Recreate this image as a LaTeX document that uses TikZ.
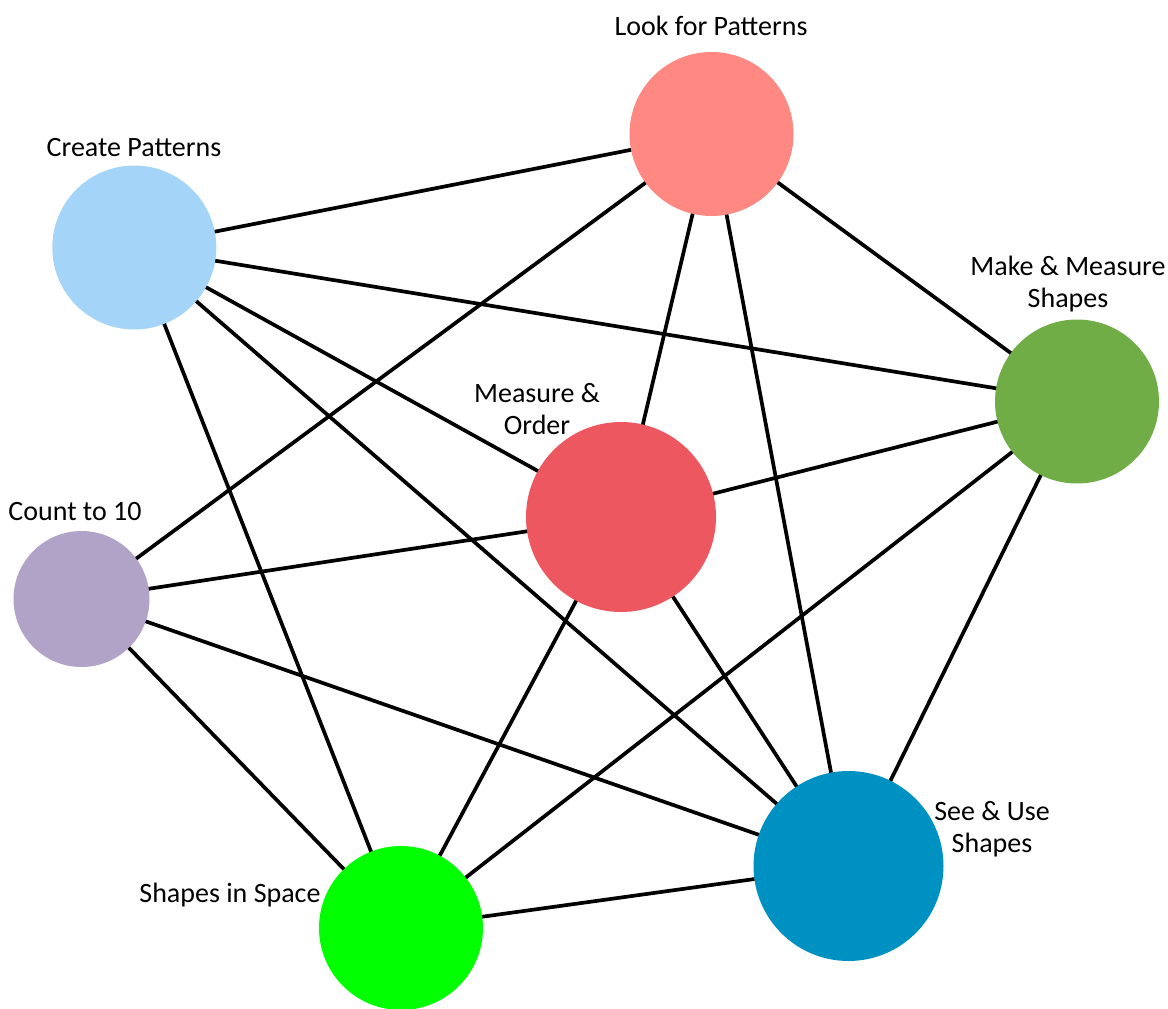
\documentclass[tikz,border=0pt]{standalone}
\usepackage{fontspec}
\setmainfont{Carlito}
\definecolor{cLook}{HTML}{FF8882}
\definecolor{cCreate}{HTML}{A4D4F7}
\definecolor{cMake}{HTML}{70AD47}
\definecolor{cOrder}{HTML}{EC5760}
\definecolor{cCount}{HTML}{B1A2C8}
\definecolor{cSee}{HTML}{0091C3}
\definecolor{cSpace}{HTML}{00FF00}
\tikzset{
  topic/.style={circle, inner sep=0pt, outer sep=0pt, draw=none},
  lbl/.style={font=\fontsize{28}{32}\selectfont, align=center, inner sep=0pt, text=black},
  link/.style={line width=3.7pt, black}
}
\begin{document}
\begin{tikzpicture}[x=1pt,y=-1pt]
\useasboundingbox (0,0) rectangle (1168,1009);
% circles
\node[topic, fill=cLook,   minimum size=164pt] (look)   at (711.5,134) {};
\node[topic, fill=cCreate, minimum size=164pt] (create) at (134.3,247.5) {};
\node[topic, fill=cMake,   minimum size=164pt] (make)   at (1077,401.5) {};
\node[topic, fill=cOrder,  minimum size=190pt] (order)  at (621,517) {};
\node[topic, fill=cCount,  minimum size=136pt] (count)  at (81.5,599) {};
\node[topic, fill=cSee,    minimum size=190pt] (see)    at (848.5,866) {};
\node[topic, fill=cSpace,  minimum size=164pt] (space)  at (401,928) {};
% connectors
\draw[link] (create) -- (look);
\draw[link] (create) -- (make);
\draw[link] (create) -- (order);
\draw[link] (create) -- (see);
\draw[link] (create) -- (space);
\draw[link] (look) -- (make);
\draw[link] (look) -- (order);
\draw[link] (look) -- (see);
\draw[link] (look) -- (count);
\draw[link] (make) -- (order);
\draw[link] (make) -- (see);
\draw[link] (make) -- (space);
\draw[link] (order) -- (count);
\draw[link] (order) -- (see);
\draw[link] (order) -- (space);
\draw[link] (count) -- (see);
\draw[link] (count) -- (space);
\draw[link] (see) -- (space);
% labels
\node[lbl] (tlook)   at (711,26)  {Look for Patterns};
\node[lbl] (tcreate) at (134,148) {Create Patterns};
\node[lbl] (tmake)   at (1068,284) {Make \& Measure\\Shapes};
\node[lbl] (torder)  at (537,409) {Measure \&\\Order};
\node[lbl] (tcount)  at (75,512)  {Count to 10};
\node[lbl] (tsee)    at (992,829) {See \& Use\\Shapes};
\node[lbl] (tspace)  at (230,895) {Shapes in Space};
\end{tikzpicture}
\end{document}
